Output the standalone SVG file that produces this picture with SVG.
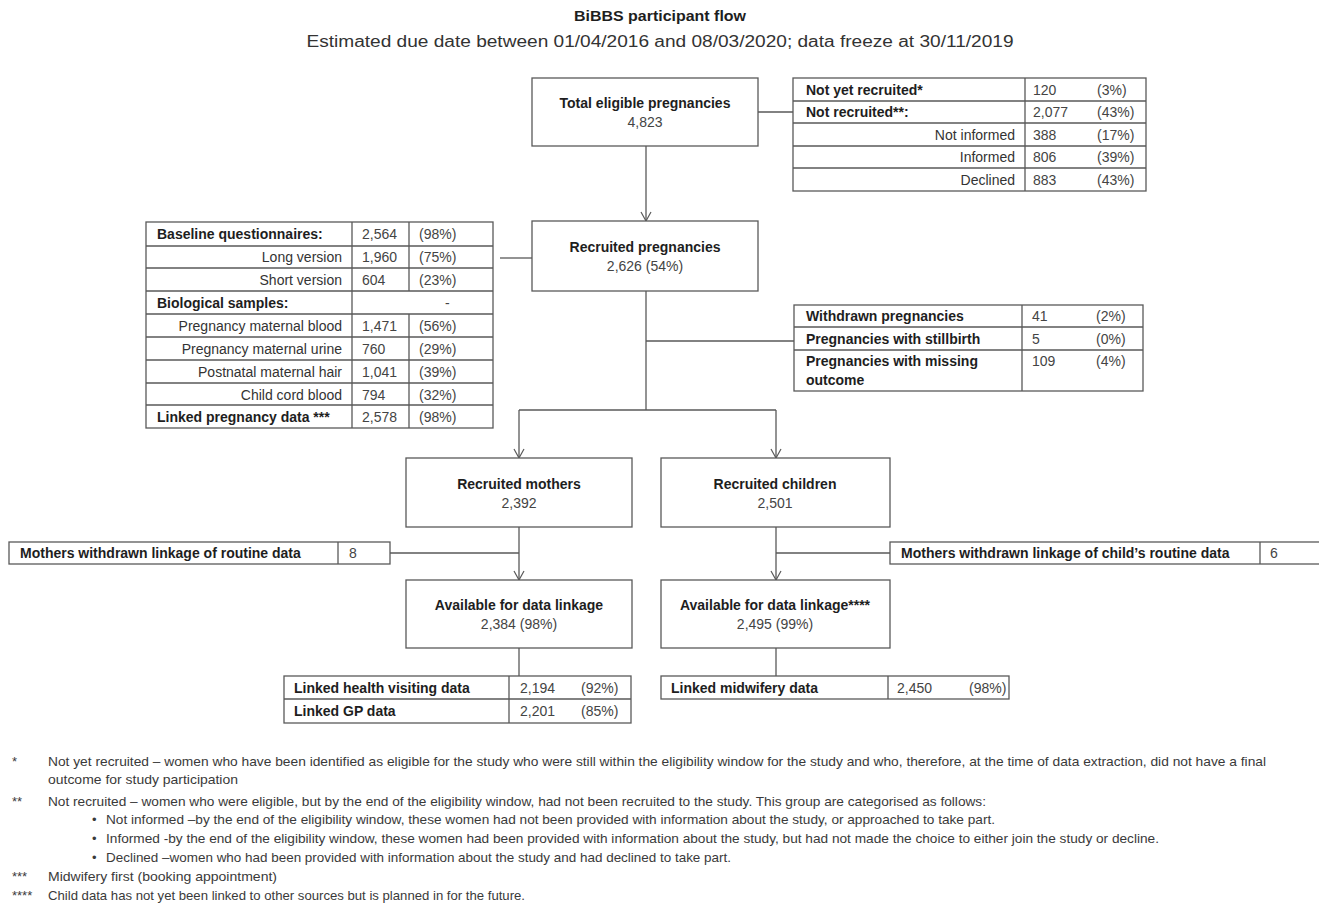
<svg xmlns="http://www.w3.org/2000/svg" width="1319" height="907" viewBox="0 0 1319 907">
<style>
text{font-family:"Liberation Sans",Arial,sans-serif;fill:#333;font-size:14px}
.b{font-weight:bold;fill:#1e1e1e}
.c{text-anchor:middle}
.r{text-anchor:end}
.n{fill:#444}
.box{fill:#fff;stroke:#595959;stroke-width:1.3}
.ln{fill:none;stroke:#595959;stroke-width:1.3}
.fn{font-size:13px;fill:#3a3a3a}
</style>
<defs>
<marker id="arr" viewBox="0 0 12 12" refX="11" refY="6" markerWidth="12" markerHeight="12" markerUnits="userSpaceOnUse" orient="auto">
<path d="M2,1 L11,6 L2,11" fill="none" stroke="#595959" stroke-width="1.2"/>
</marker>
</defs>
<rect width="1319" height="907" fill="#fff"/>
<g id="title">
<text x="660" y="21" class="b c" style="font-size:15.5px" textLength="172" lengthAdjust="spacingAndGlyphs">BiBBS participant flow</text>
<text x="660" y="47" class="c" style="font-size:16px" textLength="707" lengthAdjust="spacingAndGlyphs">Estimated due date between 01/04/2016 and 08/03/2020; data freeze at 30/11/2019</text>
</g>
<g id="connectors">
<line class="ln" x1="758" y1="112" x2="793" y2="112"/>
<line class="ln" x1="646" y1="146" x2="646" y2="221" marker-end="url(#arr)"/>
<line class="ln" x1="500" y1="258" x2="532" y2="258"/>
<line class="ln" x1="646" y1="291" x2="646" y2="410"/>
<line class="ln" x1="646" y1="341" x2="794" y2="341"/>
<line class="ln" x1="519" y1="410" x2="776" y2="410"/>
<line class="ln" x1="519" y1="410" x2="519" y2="458" marker-end="url(#arr)"/>
<line class="ln" x1="776" y1="410" x2="776" y2="458" marker-end="url(#arr)"/>
<line class="ln" x1="519" y1="527" x2="519" y2="580" marker-end="url(#arr)"/>
<line class="ln" x1="390" y1="553" x2="519" y2="553"/>
<line class="ln" x1="776" y1="527" x2="776" y2="580" marker-end="url(#arr)"/>
<line class="ln" x1="776" y1="553" x2="890" y2="553"/>
<line class="ln" x1="519" y1="648" x2="519" y2="676"/>
<line class="ln" x1="776" y1="648" x2="776" y2="676"/>
</g>
<g id="total-eligible">
<rect class="box" x="532" y="78" width="226" height="68"/>
<text x="645" y="108" class="b c">Total eligible pregnancies</text>
<text x="645" y="127" class="c n">4,823</text>
</g>
<g id="not-recruited-table">
<rect class="box" x="793" y="78" width="353" height="113"/>
<path class="ln" d="M793,101H1146M793,123H1146M793,146H1146M793,168H1146M1025,78V191"/>
<text x="806" y="95" class="b">Not yet recruited*</text>
<text x="806" y="117" class="b">Not recruited**:</text>
<text x="1015" y="140" class="r">Not informed</text>
<text x="1015" y="162" class="r">Informed</text>
<text x="1015" y="185" class="r">Declined</text>
<text x="1033" y="95" class="n">120</text>
<text x="1033" y="117" class="n">2,077</text>
<text x="1033" y="140" class="n">388</text>
<text x="1033" y="162" class="n">806</text>
<text x="1033" y="185" class="n">883</text>
<text x="1097" y="95" class="n">(3%)</text>
<text x="1097" y="117" class="n">(43%)</text>
<text x="1097" y="140" class="n">(17%)</text>
<text x="1097" y="162" class="n">(39%)</text>
<text x="1097" y="185" class="n">(43%)</text>
</g>
<g id="recruited-pregnancies">
<rect class="box" x="532" y="221" width="226" height="70"/>
<text x="645" y="252" class="b c">Recruited pregnancies</text>
<text x="645" y="271" class="c n">2,626 (54%)</text>
</g>
<g id="baseline-table">
<rect class="box" x="146" y="222" width="347" height="206"/>
<path class="ln" d="M146,246H493M146,268H493M146,291H493M146,314H493M146,337H493M146,360H493M146,383H493M146,405H493M352,222V428M409,222V291M409,314V428"/>
<text x="157" y="239" class="b">Baseline questionnaires:</text>
<text x="342" y="262" class="r">Long version</text>
<text x="342" y="285" class="r">Short version</text>
<text x="157" y="308" class="b">Biological samples:</text>
<text x="342" y="331" class="r">Pregnancy maternal blood</text>
<text x="342" y="354" class="r">Pregnancy maternal urine</text>
<text x="342" y="377" class="r">Postnatal maternal hair</text>
<text x="342" y="400" class="r">Child cord blood</text>
<text x="157" y="422" class="b">Linked pregnancy data ***</text>
<text x="362" y="239" class="n">2,564</text>
<text x="362" y="262" class="n">1,960</text>
<text x="362" y="285" class="n">604</text>
<text x="445" y="308" class="n">-</text>
<text x="362" y="331" class="n">1,471</text>
<text x="362" y="354" class="n">760</text>
<text x="362" y="377" class="n">1,041</text>
<text x="362" y="400" class="n">794</text>
<text x="362" y="422" class="n">2,578</text>
<text x="419" y="239" class="n">(98%)</text>
<text x="419" y="262" class="n">(75%)</text>
<text x="419" y="285" class="n">(23%)</text>
<text x="419" y="331" class="n">(56%)</text>
<text x="419" y="354" class="n">(29%)</text>
<text x="419" y="377" class="n">(39%)</text>
<text x="419" y="400" class="n">(32%)</text>
<text x="419" y="422" class="n">(98%)</text>
</g>
<g id="withdrawn-table">
<rect class="box" x="794" y="305" width="349" height="86"/>
<path class="ln" d="M794,327H1143M794,350H1143M1022,305V391"/>
<text x="806" y="321" class="b">Withdrawn pregnancies</text>
<text x="806" y="344" class="b">Pregnancies with stillbirth</text>
<text x="806" y="366" class="b">Pregnancies with missing</text>
<text x="806" y="385" class="b">outcome</text>
<text x="1032" y="321" class="n">41</text>
<text x="1032" y="344" class="n">5</text>
<text x="1032" y="366" class="n">109</text>
<text x="1096" y="321" class="n">(2%)</text>
<text x="1096" y="344" class="n">(0%)</text>
<text x="1096" y="366" class="n">(4%)</text>
</g>
<g id="recruited-mothers">
<rect class="box" x="406" y="458" width="226" height="69"/>
<text x="519" y="489" class="b c">Recruited mothers</text>
<text x="519" y="508" class="c n">2,392</text>
</g>
<g id="recruited-children">
<rect class="box" x="661" y="458" width="229" height="69"/>
<text x="775" y="489" class="b c">Recruited children</text>
<text x="775" y="508" class="c n">2,501</text>
</g>
<g id="mothers-withdrawn">
<rect class="box" x="9" y="542" width="381" height="22"/>
<line class="ln" x1="338" y1="542" x2="338" y2="564"/>
<text x="20" y="558" class="b">Mothers withdrawn linkage of routine data</text>
<text x="349" y="558" class="n">8</text>
</g>
<g id="child-withdrawn">
<rect class="box" x="890" y="542" width="440" height="22"/>
<line class="ln" x1="1260" y1="542" x2="1260" y2="564"/>
<text x="901" y="558" class="b">Mothers withdrawn linkage of child’s routine data</text>
<text x="1270" y="558" class="n">6</text>
</g>
<g id="available-mothers">
<rect class="box" x="406" y="580" width="226" height="68"/>
<text x="519" y="610" class="b c">Available for data linkage</text>
<text x="519" y="629" class="c n">2,384 (98%)</text>
</g>
<g id="available-children">
<rect class="box" x="661" y="580" width="229" height="68"/>
<text x="775" y="610" class="b c">Available for data linkage****</text>
<text x="775" y="629" class="c n">2,495 (99%)</text>
</g>
<g id="mothers-linked">
<rect class="box" x="284" y="676" width="347" height="47"/>
<path class="ln" d="M284,699H631M509,676V723"/>
<text x="294" y="693" class="b">Linked health visiting data</text>
<text x="294" y="716" class="b">Linked GP data</text>
<text x="520" y="693" class="n">2,194</text>
<text x="520" y="716" class="n">2,201</text>
<text x="581" y="693" class="n">(92%)</text>
<text x="581" y="716" class="n">(85%)</text>
</g>
<g id="children-linked">
<rect class="box" x="661" y="676" width="348" height="23"/>
<line class="ln" x1="888" y1="676" x2="888" y2="699"/>
<text x="671" y="693" class="b">Linked midwifery data</text>
<text x="897" y="693" class="n">2,450</text>
<text x="969" y="693" class="n">(98%)</text>
</g>
<g id="footnotes">
<text x="12" y="766" class="fn">*</text>
<text x="48" y="766" class="fn" textLength="1218" lengthAdjust="spacingAndGlyphs">Not yet recruited – women who have been identified as eligible for the study who were still within the eligibility window for the study and who, therefore, at the time of data extraction, did not have a final</text>
<text x="48" y="784" class="fn" textLength="190" lengthAdjust="spacingAndGlyphs">outcome for study participation</text>
<text x="12" y="806" class="fn">**</text>
<text x="48" y="806" class="fn" textLength="938" lengthAdjust="spacingAndGlyphs">Not recruited – women who were eligible, but by the end of the eligibility window, had not been recruited to the study. This group are categorised as follows:</text>
<text x="92" y="824" class="fn">•</text>
<text x="106" y="824" class="fn" textLength="889" lengthAdjust="spacingAndGlyphs">Not informed –by the end of the eligibility window, these women had not been provided with information about the study, or approached to take part.</text>
<text x="92" y="843" class="fn">•</text>
<text x="106" y="843" class="fn" textLength="1053" lengthAdjust="spacingAndGlyphs">Informed -by the end of the eligibility window, these women had been provided with information about the study, but had not made the choice to either join the study or decline.</text>
<text x="92" y="862" class="fn">•</text>
<text x="106" y="862" class="fn" textLength="625" lengthAdjust="spacingAndGlyphs">Declined –women who had been provided with information about the study and had declined to take part.</text>
<text x="12" y="881" class="fn">***</text>
<text x="48" y="881" class="fn" textLength="229" lengthAdjust="spacingAndGlyphs">Midwifery first (booking appointment)</text>
<text x="12" y="900" class="fn">****</text>
<text x="48" y="900" class="fn" textLength="477" lengthAdjust="spacingAndGlyphs">Child data has not yet been linked to other sources but is planned in for the future.</text>
</g>
</svg>
